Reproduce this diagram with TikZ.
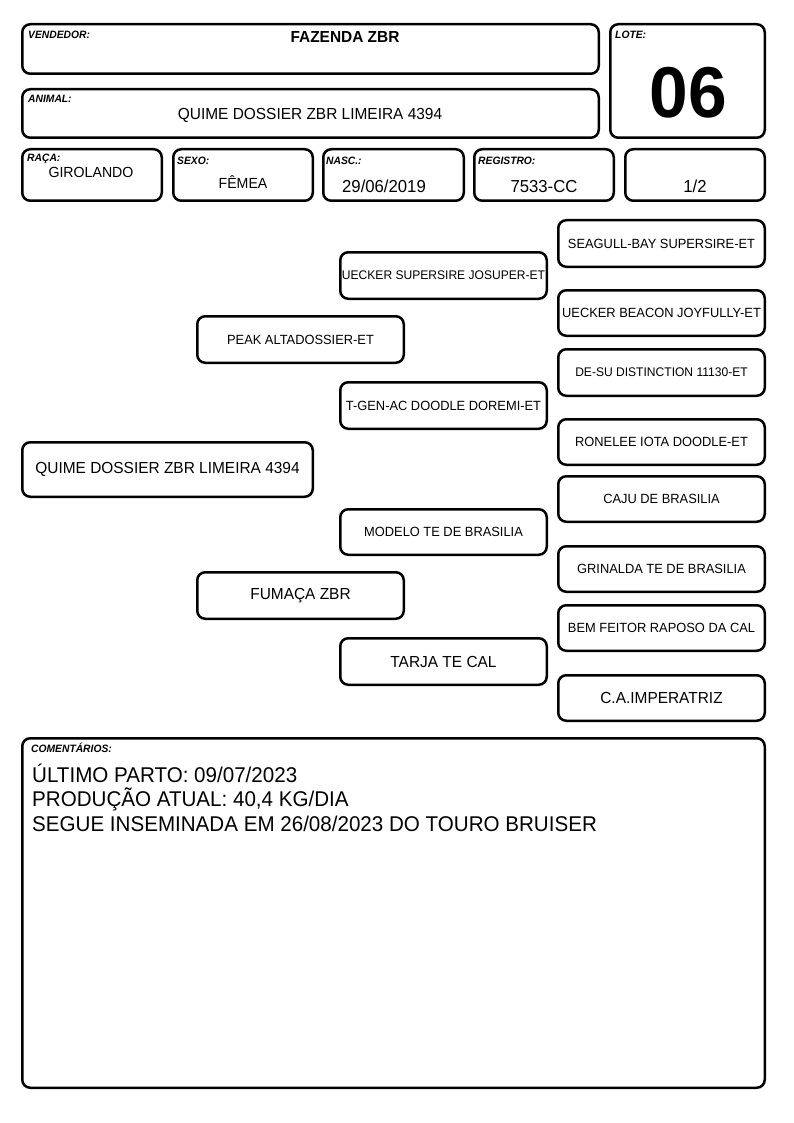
\documentclass[tikz,border=0pt]{standalone}
\usepackage{fontspec}
\setmainfont{Liberation Sans}[FakeStretch=0.965]
\newcommand{\fsz}[1]{\fontsize{#1}{#1}\selectfont}
% \bx[style]{name}{x1}{y1}{x2}{y2}{text}: box whose outer ink edges are x1..x2, y1..y2
\newcommand{\bx}[7][]{\node[box,#1, minimum width={(#5-#3-2.5)*1pt}, minimum height={(#6-#4-2.5)*1pt}] (#2) at (#3,#4) {#7};}
\begin{document}
\begin{tikzpicture}[x=1pt,y=-1pt,
  box/.style={draw, line width=2.5pt, rounded corners=8pt, inner sep=0pt, anchor=north west, align=center},
  lbl/.style={font=\fsz{10.67}\bfseries\itshape, anchor=base west, inner sep=0pt},
  val/.style={anchor=base, inner sep=0pt},
  ped/.style={font=\fsz{13.33}},
  peds/.style={font=\fsz{12.5}},
  pedL/.style={font=\fsz{16}},
  cmt/.style={font=\fsz{21.33}, anchor=base west, inner sep=0pt}]
\useasboundingbox (0,0) rectangle (794,1123);
% header boxes
\bx{vend}{21}{23}{600}{75}{}
\bx{anim}{21}{88}{600}{139}{}
\bx{lote}{609}{23}{766}{139}{}
\bx{raca}{21}{148}{163}{202}{}
\bx{sexo}{172}{148}{314}{202}{}
\bx{nasc}{322}{148}{465}{202}{}
\bx{reg}{473}{148}{615}{202}{}
\bx{frac}{624}{148}{766}{202}{}
% labels and values
\node[lbl] (lvend) at (28,39) {VENDEDOR:};
\node[val, font=\fsz{16}\bfseries] (tvend) at (345,43) {FAZENDA ZBR};
\node[lbl] (llote) at (615,39) {LOTE:};
\node[val, font=\fsz{72}\bfseries] (tlote) at (688,118) {06};
\node[lbl] (lanim) at (28,103) {ANIMAL:};
\node[val, font=\fsz{16}] (tanim) at (310,120) {QUIME DOSSIER ZBR LIMEIRA 4394};
\node[lbl] (lraca) at (27,162) {RAÇA:};
\node[val, font=\fsz{14.67}] (traca) at (91,178) {GIROLANDO};
\node[lbl] (lsexo) at (177,165) {SEXO:};
\node[val, font=\fsz{14.67}] (tsexo) at (243,189) {FÊMEA};
\node[lbl] (lnasc) at (326,165) {NASC.:};
\node[val, font=\fsz{17.33}] (tnasc) at (384,193) {29/06/2019};
\node[lbl] (lreg) at (478,165) {REGISTRO:};
\node[val, font=\fsz{17.33}] (treg) at (544,193) {7533-CC};
\node[val, font=\fsz{17.33}] (tfrac) at (695,193) {1/2};
% pedigree
\bx[pedL]{p0}{21}{441}{314}{498}{QUIME DOSSIER ZBR LIMEIRA 4394}
\bx[ped]{p1}{196}{315}{405}{364}{PEAK ALTADOSSIER-ET}
\bx[pedL]{p2}{196}{571}{405}{620}{FUMAÇA ZBR}
\bx[peds]{p11}{339}{251}{548}{300}{UECKER SUPERSIRE JOSUPER-ET}
\bx[ped]{p12}{339}{381}{548}{430}{T-GEN-AC DOODLE DOREMI-ET}
\bx[ped]{p21}{339}{508}{548}{556}{MODELO TE DE BRASILIA}
\bx[pedL]{p22}{339}{637}{548}{686}{TARJA TE CAL}
\bx[ped]{p111}{557}{219}{766}{268}{SEAGULL-BAY SUPERSIRE-ET}
\bx[ped]{p112}{557}{289}{766}{337}{UECKER BEACON JOYFULLY-ET}
\bx[peds]{p121}{557}{348}{766}{397}{DE-SU DISTINCTION 11130-ET}
\bx[ped]{p122}{557}{418}{766}{466}{RONELEE IOTA DOODLE-ET}
\bx[ped]{p211}{557}{475}{766}{523}{CAJU DE BRASILIA}
\bx[ped]{p212}{557}{545}{766}{593}{GRINALDA TE DE BRASILIA}
\bx[ped]{p221}{557}{604}{766}{652}{BEM FEITOR RAPOSO DA CAL}
\bx[pedL]{p222}{557}{674}{766}{722}{C.A.IMPERATRIZ}
% comments
\bx{com}{21}{737}{766}{1089}{}
\node[lbl] (lcom) at (31,752) {COMENTÁRIOS:};
\node[cmt] (c1) at (32,782) {ÚLTIMO PARTO: 09/07/2023};
\node[cmt] (c2) at (32,806.5) {PRODUÇÃO ATUAL: 40,4 KG/DIA};
\node[cmt] (c3) at (32,831) {SEGUE INSEMINADA EM 26/08/2023 DO TOURO BRUISER};
\end{tikzpicture}
\end{document}
